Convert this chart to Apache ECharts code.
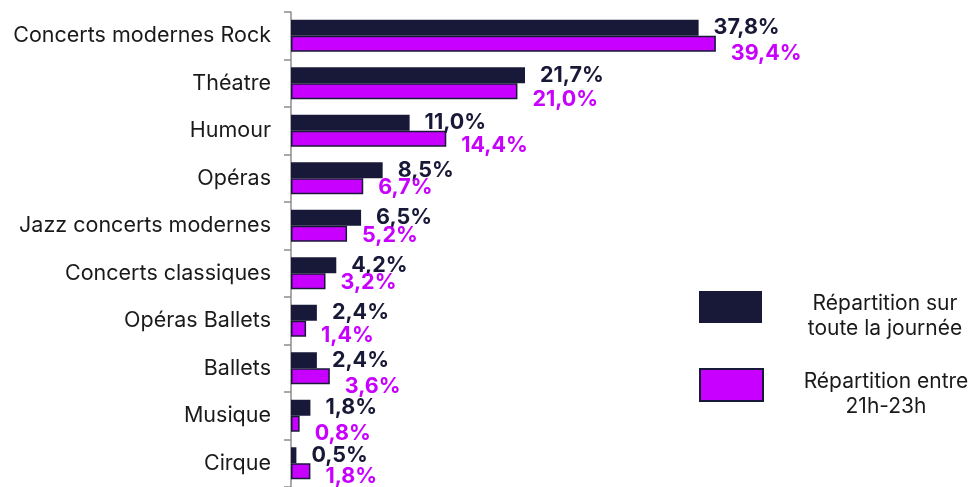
<!DOCTYPE html>
<html>
<head>
<meta charset="utf-8">
<script src="https://cdn.jsdelivr.net/npm/echarts@6/dist/echarts.min.js"></script>
<style>
  html, body { margin: 0; padding: 0; background: #ffffff; }
  #chart { width: 980px; height: 487px; }
</style>
</head>
<body>
<div id="chart"></div>
<script>
// Spectacle categories, top to bottom
const categories = [
  'Concerts modernes Rock', 'Théatre', 'Humour', 'Opéras',
  'Jazz concerts modernes', 'Concerts classiques', 'Opéras Ballets',
  'Ballets', 'Musique', 'Cirque'
];
// Share of attendance over the whole day (%)
const allDay = [37.8, 21.7, 11.0, 8.5, 6.5, 4.2, 2.4, 2.4, 1.8, 0.5];
// Share of attendance between 21h and 23h (%)
const evening = [39.4, 21.0, 14.4, 6.7, 5.2, 3.2, 1.4, 3.6, 0.8, 1.8];
const seriesNames = ['Répartition sur\ntoute la journée', 'Répartition entre\n21h-23h'];

// Vertical nudge of the evening labels so they clear the neighbouring text
const eveningLabelDy = [10, 8, 7, 1, 2, 1, 7, 10, 10, 5];

const DARK = '#181838';
const PURPLE = '#c800ff';
const FONT = 'Inter, "Noto Sans", sans-serif';

const pct = v => v.toFixed(1).replace('.', ',') + '%';

function legendFor(name, top) {
  const lines = name.split('\n').map(l => '{t|' + l + '}').join('\n');
  return {
    data: [{ name: name, icon: 'rect' }],
    left: 699,
    top: top,
    padding: 0,
    itemWidth: 63,
    itemHeight: 32,
    selectedMode: false,
    formatter: () => lines,
    textStyle: {
      padding: [18, 0, 0, 0],
      rich: {
        t: { width: 236, align: 'center', fontSize: 21, lineHeight: 25, color: '#1a1a1a', fontFamily: FONT }
      }
    }
  };
}

const chart = echarts.init(document.getElementById('chart'), null, { renderer: 'canvas' });
chart.setOption({
  animation: false,
  backgroundColor: '#ffffff',
  grid: { left: 291, top: 12, height: 476, width: 647, containLabel: false },
  legend: [legendFor(seriesNames[0], 291), legendFor(seriesNames[1], 368)],
  xAxis: {
    type: 'value', min: 0, max: 60,
    show: false
  },
  yAxis: {
    type: 'category',
    data: categories,
    inverse: true,
    axisLine: { show: true, lineStyle: { color: '#8c8c8c', width: 1.5 } },
    axisTick: { show: true, length: 7, lineStyle: { color: '#8c8c8c', width: 1.5 } },
    axisLabel: { fontSize: 21.5, color: '#1a1a1a', margin: 20, fontFamily: FONT },
    splitLine: { show: false }
  },
  series: [
    {
      name: seriesNames[0],
      type: 'bar',
      data: allDay,
      barWidth: 16,
      barGap: '0%',
      itemStyle: { color: DARK },
      label: {
        show: true, position: 'right', distance: 15,
        formatter: p => pct(p.value),
        fontSize: 21.5, fontWeight: 'bold', color: DARK, fontFamily: FONT
      }
    },
    {
      name: seriesNames[1],
      type: 'bar',
      data: evening.map((v, i) => ({
        value: v,
        label: { offset: [0, eveningLabelDy[i]] }
      })),
      barWidth: 16,
      itemStyle: { color: PURPLE, borderColor: DARK, borderWidth: 1.5 },
      label: {
        show: true, position: 'right', distance: 15,
        formatter: p => pct(p.value),
        fontSize: 21.5, fontWeight: 'bold', color: PURPLE, fontFamily: FONT
      }
    }
  ]
});
</script>
</body>
</html>
